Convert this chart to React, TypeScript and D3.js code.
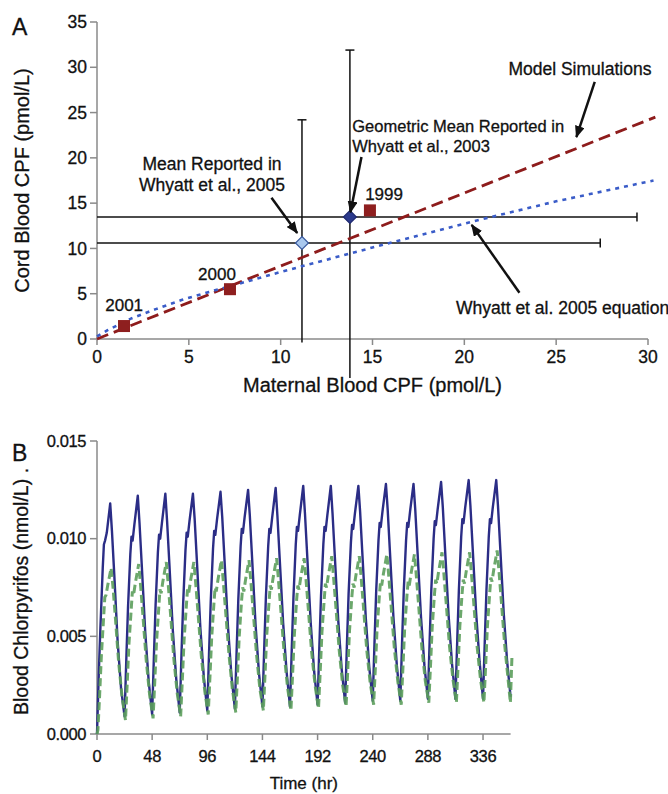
import React from 'react'
import * as d3 from 'd3'

const W = 668
const H = 794
const FONT = '"Liberation Sans", Arial, Helvetica, sans-serif'

// ---- panel A: cord vs maternal blood CPF ----
const ticksAx = [0, 5, 10, 15, 20, 25, 30]
const ticksAy = [0, 5, 10, 15, 20, 25, 30, 35]

const modelMaternal = [0, 30.4]
const modelCord = [0, 24.5]

const equationMaternal = [0, 0.6, 1.9, 3.2, 4.6, 6.1, 7.2, 10, 12.4, 15, 20.5, 25, 30.3]
const equationCord = [0.3, 1.0, 2.3, 3.3, 4.3, 5.2, 5.8, 7.4, 8.7, 10.1, 13.0, 15.2, 17.5]

const yearLabels = ['1999', '2000', '2001']
const yearMaternal = [14.86, 7.24, 1.47]
const yearCord = [14.2, 5.5, 1.43]

const studyMaternal = [11.16, 13.77]
const studyCord = [10.6, 13.47]
const studyMaternalHi = [27.4, 29.4]
const studyCordLo = [-0.4, -4.3]
const studyCordHi = [24.2, 31.9]
const studyFill = ['#a9c8ee', '#2c3a8c']

// ---- panel B: blood chlorpyrifos over time ----
const ticksBx = [0, 48, 96, 144, 192, 240, 288, 336]
const ticksBy = [0, 0.005, 0.01, 0.015]

// hours after each daily trough where values were read
const solidOffsets = [0, 1.5, 3, 5, 6, 7, 8.5, 11.5, 13, 15, 18, 21]
const solidDays = [
  [0, 0.0030, 0.0055, 0.0085, 0.0097, 0.0099, 0.0103, 0.0118, 0.0104, 0.0082, 0.0047, 0.0023],
  [0.0009, 0.0038, 0.0065, 0.0092, 0.0101, 0.0099, 0.0107, 0.0122, 0.0108, 0.0086, 0.0052, 0.0027],
  [0.0010, 0.0039, 0.0066, 0.0093, 0.0102, 0.0100, 0.0108, 0.0123, 0.0109, 0.0087, 0.0053, 0.0028],
  [0.0011, 0.0040, 0.0067, 0.0094, 0.0103, 0.0101, 0.0109, 0.0123, 0.0110, 0.0088, 0.0054, 0.0029],
  [0.0012, 0.0041, 0.0068, 0.0095, 0.0104, 0.0102, 0.0110, 0.0124, 0.0111, 0.0089, 0.0055, 0.0030],
  [0.0013, 0.0042, 0.0069, 0.0096, 0.0105, 0.0103, 0.0111, 0.0125, 0.0112, 0.0090, 0.0056, 0.0031],
  [0.0014, 0.0043, 0.0070, 0.0096, 0.0105, 0.0103, 0.0111, 0.0126, 0.0112, 0.0090, 0.0057, 0.0032],
  [0.0014, 0.0043, 0.0070, 0.0097, 0.0106, 0.0104, 0.0112, 0.0127, 0.0113, 0.0091, 0.0057, 0.0032],
  [0.0015, 0.0044, 0.0071, 0.0097, 0.0106, 0.0104, 0.0112, 0.0127, 0.0113, 0.0091, 0.0058, 0.0033],
  [0.0016, 0.0045, 0.0072, 0.0098, 0.0107, 0.0105, 0.0113, 0.0127, 0.0114, 0.0092, 0.0059, 0.0034],
  [0.0017, 0.0046, 0.0073, 0.0099, 0.0108, 0.0106, 0.0114, 0.0128, 0.0115, 0.0093, 0.0060, 0.0035],
  [0.0017, 0.0046, 0.0073, 0.0099, 0.0108, 0.0106, 0.0114, 0.0128, 0.0115, 0.0093, 0.0060, 0.0035],
  [0.0018, 0.0047, 0.0074, 0.0100, 0.0109, 0.0107, 0.0115, 0.0129, 0.0116, 0.0094, 0.0061, 0.0036],
  [0.0018, 0.0047, 0.0074, 0.0101, 0.0110, 0.0108, 0.0116, 0.0130, 0.0117, 0.0095, 0.0062, 0.0037],
  [0.0018, 0.0047, 0.0074, 0.0101, 0.0110, 0.0108, 0.0116, 0.0130, 0.0117, 0.0095, 0.0062, 0.0037],
]
const solidTail = [[360, 0.0019]]

const greenOffsets = [0.8, 2.3, 3.8, 5.8, 6.8, 7.8, 9.3, 12.3, 13.8, 15.8, 18.8, 21.8]
const greenDays = [
  [0.0002, 0.0020, 0.0040, 0.0060, 0.0070, 0.0071, 0.0076, 0.0085, 0.0076, 0.0061, 0.0037, 0.0019],
  [0.0007, 0.0026, 0.0046, 0.0064, 0.0073, 0.0071, 0.0077, 0.0087, 0.0077, 0.0062, 0.0038, 0.0020],
  [0.0008, 0.0027, 0.0047, 0.0065, 0.0074, 0.0072, 0.0078, 0.0088, 0.0078, 0.0063, 0.0039, 0.0021],
  [0.0009, 0.0028, 0.0048, 0.0066, 0.0074, 0.0072, 0.0078, 0.0088, 0.0078, 0.0063, 0.0040, 0.0022],
  [0.0010, 0.0029, 0.0049, 0.0067, 0.0075, 0.0073, 0.0079, 0.0089, 0.0079, 0.0064, 0.0041, 0.0023],
  [0.0011, 0.0030, 0.0050, 0.0068, 0.0075, 0.0073, 0.0079, 0.0089, 0.0079, 0.0064, 0.0041, 0.0023],
  [0.0012, 0.0031, 0.0051, 0.0068, 0.0076, 0.0074, 0.0080, 0.0090, 0.0080, 0.0065, 0.0042, 0.0024],
  [0.0012, 0.0031, 0.0051, 0.0069, 0.0076, 0.0074, 0.0080, 0.0090, 0.0080, 0.0065, 0.0042, 0.0025],
  [0.0013, 0.0032, 0.0052, 0.0069, 0.0077, 0.0075, 0.0081, 0.0091, 0.0081, 0.0066, 0.0043, 0.0025],
  [0.0014, 0.0033, 0.0053, 0.0070, 0.0077, 0.0075, 0.0081, 0.0091, 0.0081, 0.0066, 0.0043, 0.0026],
  [0.0015, 0.0034, 0.0054, 0.0071, 0.0078, 0.0076, 0.0082, 0.0092, 0.0082, 0.0067, 0.0044, 0.0027],
  [0.0015, 0.0034, 0.0054, 0.0071, 0.0078, 0.0076, 0.0082, 0.0092, 0.0082, 0.0067, 0.0044, 0.0027],
  [0.0016, 0.0035, 0.0055, 0.0072, 0.0079, 0.0077, 0.0083, 0.0093, 0.0083, 0.0068, 0.0045, 0.0028],
  [0.0016, 0.0035, 0.0055, 0.0072, 0.0079, 0.0077, 0.0083, 0.0093, 0.0083, 0.0068, 0.0045, 0.0028],
  [0.0016, 0.0035, 0.0055, 0.0072, 0.0080, 0.0078, 0.0084, 0.0094, 0.0084, 0.0069, 0.0046, 0.0028],
]
const greenTail = [[359.8, 0.0016], [361.2, 0.0040]]

const AXIS = '#8a8a8a'
const INK = '#111'

const toSeries = (offsets: number[], days: number[][], tail: number[][]) => {
  const pts: [number, number][] = [[0, 0]]
  days.forEach((row, d) => row.forEach((v, i) => pts.push([d * 24 + offsets[i], v])))
  tail.forEach(p => pts.push([p[0], p[1]]))
  return pts
}

export default function App () {
  // panel A scales
  const xA = d3.scaleLinear().domain([0, 30]).range([97, 648])
  const yA = d3.scaleLinear().domain([0, 35]).range([339, 22])
  // panel B scales
  const xB = d3.scaleLinear().domain([0, 360]).range([97, 510.6])
  const yB = d3.scaleLinear().domain([0, 0.015]).range([734, 441])

  const lineA = d3.line<[number, number]>().x(d => xA(d[0])).y(d => yA(d[1]))
  const lineB = d3.line<[number, number]>().x(d => xB(d[0])).y(d => yB(d[1]))

  const model = modelMaternal.map((m, i) => [m, modelCord[i]] as [number, number])
  const equation = equationMaternal.map((m, i) => [m, equationCord[i]] as [number, number])
  const solid = toSeries(solidOffsets, solidDays, solidTail)
  const green = toSeries(greenOffsets, greenDays, greenTail)

  const arrow = (x1: number, y1: number, x2: number, y2: number) => (
    <line x1={xA(x1)} y1={yA(y1)} x2={xA(x2)} y2={yA(y2)}
      stroke={INK} strokeWidth={2.5} markerEnd='url(#head)' />
  )

  const txt = { fontFamily: FONT, fill: INK, stroke: INK, strokeWidth: 0.3 }

  return (
    <svg width={W} height={H} viewBox={`0 0 ${W} ${H}`}
      style={{ position: 'absolute', left: 0, top: 0, background: '#fff' }}>
      <defs>
        <marker id='head' viewBox='0 0 12 10' refX='11' refY='5' markerWidth='12' markerHeight='10'
          markerUnits='userSpaceOnUse' orient='auto'>
          <path d='M0,0 L12,5 L0,10 z' fill={INK} />
        </marker>
      </defs>

      {/* ===== Panel A ===== */}
      <text x={12} y={35} fontSize={23} {...txt}>A</text>

      {/* axes */}
      <line x1={xA(0)} x2={xA(0)} y1={yA(0)} y2={yA(35)} stroke={AXIS} strokeWidth={1.5} />
      <line x1={xA(0)} x2={xA(30)} y1={yA(0)} y2={yA(0)} stroke={AXIS} strokeWidth={1.5} />
      {ticksAy.map(t => (
        <g key={'ay' + t}>
          <line x1={xA(0) - 7} x2={xA(0)} y1={yA(t)} y2={yA(t)} stroke={AXIS} strokeWidth={1.5} />
          <text x={87} y={yA(t)} dy='0.35em' textAnchor='end' fontSize={17.5} {...txt}>{t}</text>
        </g>
      ))}
      {ticksAx.map(t => (
        <g key={'ax' + t}>
          <line x1={xA(t)} x2={xA(t)} y1={yA(0)} y2={yA(0) + 6} stroke={AXIS} strokeWidth={1.5} />
          <text x={xA(t)} y={363} textAnchor='middle' fontSize={17.5} {...txt}>{t}</text>
        </g>
      ))}
      <text transform={`translate(29,${(yA(0) + yA(35)) / 2}) rotate(-90)`} textAnchor='middle'
        fontSize={20} {...txt}>Cord Blood CPF (pmol/L)</text>
      <text x={(xA(0) + xA(30)) / 2} y={392} textAnchor='middle' fontSize={20} {...txt}>
        Maternal Blood CPF (pmol/L)
      </text>

      {/* error bars */}
      {studyMaternal.map((m, i) => (
        <g key={'eb' + i} stroke={INK} strokeWidth={1.5}>
          <line x1={xA(m)} x2={xA(m)} y1={yA(studyCordLo[i])} y2={yA(studyCordHi[i])} />
          <line x1={xA(m) - 4.5} x2={xA(m) + 4.5} y1={yA(studyCordHi[i])} y2={yA(studyCordHi[i])} />
          <line x1={xA(0)} x2={xA(studyMaternalHi[i])} y1={yA(studyCord[i])} y2={yA(studyCord[i])} />
          <line x1={xA(studyMaternalHi[i])} x2={xA(studyMaternalHi[i])}
            y1={yA(studyCord[i]) - 4.5} y2={yA(studyCord[i]) + 4.5} />
        </g>
      ))}

      {/* model and regression lines */}
      <path d={lineA(model) || ''} fill='none' stroke='#8e1c1c' strokeWidth={2.8} strokeDasharray='12 6' />
      <path d={lineA(equation) || ''} fill='none' stroke='#3a5cc8' strokeWidth={2.6} strokeDasharray='4 5' />

      {/* cohort year markers */}
      {yearLabels.map((lab, i) => (
        <rect key={lab} x={xA(yearMaternal[i]) - 6} y={yA(yearCord[i]) - 6} width={12} height={12}
          fill='#8e1f1f' />
      ))}
      <text x={xA(14.6)} y={yA(15.3)} fontSize={17} {...txt}>{yearLabels[0]}</text>
      <text x={xA(5.5)} y={yA(6.5)} fontSize={17} {...txt}>{yearLabels[1]}</text>
      <text x={xA(0.45)} y={yA(3.1)} fontSize={17} {...txt}>{yearLabels[2]}</text>

      {/* study means */}
      {studyMaternal.map((m, i) => {
        const cx = xA(m)
        const cy = yA(studyCord[i])
        return (
          <path key={'dm' + i} d={`M${cx},${cy - 6.5} L${cx + 6.5},${cy} L${cx},${cy + 6.5} L${cx - 6.5},${cy} Z`}
            fill={studyFill[i]} stroke={i === 0 ? '#3a5a9e' : '#1f2a70'} strokeWidth={1.2} />
        )
      })}

      {/* annotations */}
      <text x={xA(6.26)} y={yA(18.65)} textAnchor='middle' fontSize={17.5} {...txt}>
        <tspan x={xA(6.26)}>Mean Reported in</tspan>
        <tspan x={xA(6.26)} dy={21}>Whyatt et al., 2005</tspan>
      </text>
      {arrow(9.5, 15.6, 10.9, 11.7)}

      <text x={xA(13.9)} y={yA(22.85)} fontSize={16.5} {...txt}>
        <tspan x={xA(13.9)}>Geometric Mean Reported in</tspan>
        <tspan x={xA(13.9)} dy={20}>Whyatt et al., 2003</tspan>
      </text>
      {arrow(14.4, 20.1, 13.8, 14.0)}

      <text x={xA(22.4)} y={yA(29.1)} fontSize={17.5} {...txt}>Model Simulations</text>
      {arrow(27.1, 28.4, 26.1, 22.3)}

      <text x={xA(19.55)} y={yA(2.75)} fontSize={17.5} {...txt}>Whyatt et al. 2005 equation</text>
      {arrow(23.0, 5.1, 20.4, 12.6)}

      {/* ===== Panel B ===== */}
      <text x={12} y={461} fontSize={23} {...txt}>B</text>

      <line x1={xB(0)} x2={xB(0)} y1={yB(0)} y2={yB(0.015)} stroke={AXIS} strokeWidth={1.5} />
      <line x1={xB(0)} x2={xB(360)} y1={yB(0)} y2={yB(0)} stroke={AXIS} strokeWidth={1.5} />
      {ticksBy.map(t => (
        <g key={'by' + t}>
          <line x1={xB(0) - 7} x2={xB(0)} y1={yB(t)} y2={yB(t)} stroke={AXIS} strokeWidth={1.5} />
          <text x={86} y={yB(t)} dy='0.35em' textAnchor='end' fontSize={16.5} letterSpacing={-0.4} {...txt}>
            {d3.format('.3f')(t)}
          </text>
        </g>
      ))}
      {ticksBx.map(t => (
        <g key={'bx' + t}>
          <line x1={xB(t)} x2={xB(t)} y1={yB(0)} y2={yB(0) + 6} stroke={AXIS} strokeWidth={1.5} />
          <text x={xB(t)} y={762} textAnchor='middle' fontSize={16.5} letterSpacing={-0.4} {...txt}>{t}</text>
        </g>
      ))}
      <text transform={`translate(28,${(yB(0) + yB(0.015)) / 2 + 4}) rotate(-90)`} textAnchor='middle'
        fontSize={19.5} {...txt}>Blood Chlorpyrifos (nmol/L) .</text>
      <text x={(xB(0) + xB(360)) / 2} y={789} textAnchor='middle' fontSize={17} {...txt}>Time (hr)</text>

      <path d={lineB(solid) || ''} fill='none' stroke='#2b2d86' strokeWidth={2.4} strokeLinejoin='round' />
      <path d={lineB(green) || ''} fill='none' stroke='#5c9f5c' strokeWidth={3} strokeDasharray='8 4'
        opacity={0.9} />
    </svg>
  )
}
